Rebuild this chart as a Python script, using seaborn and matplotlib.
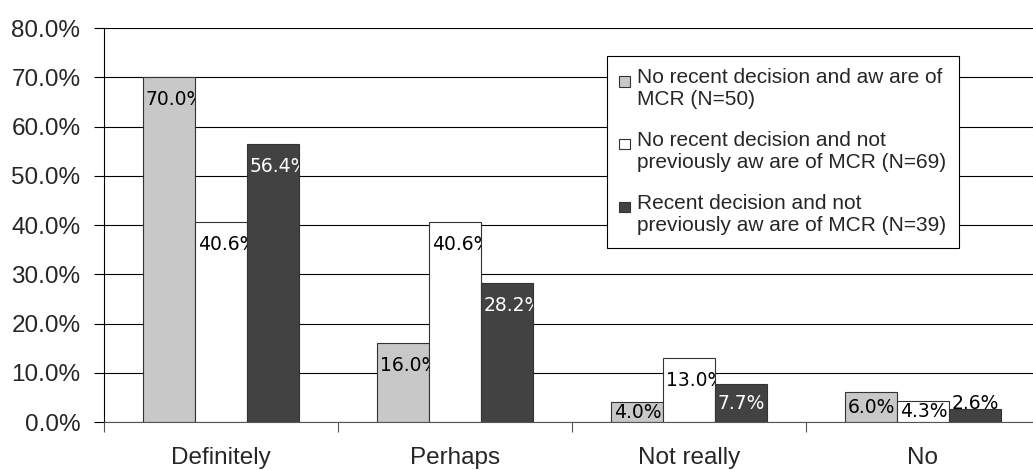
import numpy as np
import matplotlib
matplotlib.use('Agg')
import matplotlib.pyplot as plt
import pandas as pd
import seaborn as sns
from matplotlib.patches import Rectangle
from matplotlib.legend_handler import HandlerPatch

## datos
cats = ['Definitely', 'Perhaps', 'Not really', 'No']
grupos = ['No recent decision and aw are of\nMCR (N=50)',
          'No recent decision and not\npreviously aw are of MCR (N=69)',
          'Recent decision and not\npreviously aw are of MCR (N=39)']
g1 = [70.0, 16.0, 4.0, 6.0]
g2 = [40.6, 40.6, 13.0, 4.3]
g3 = [56.4, 28.2, 7.7, 2.6]
colores = ['#c8c8c8', '#ffffff', '#424242']
yticks = [0, 10, 20, 30, 40, 50, 60, 70, 80]

df = pd.DataFrame({
    'cat': cats * 3,
    'val': g1 + g2 + g3,
    'grp': [grupos[0]] * 4 + [grupos[1]] * 4 + [grupos[2]] * 4,
})

sns.set_style('white')
plt.rcParams['font.family'] = ['Liberation Sans', 'DejaVu Sans']

fig = plt.figure(figsize=(10.33, 4.7), dpi=100)
ax = fig.add_axes([0.1007, 0.1021, 0.906, 0.8383])

sns.barplot(data=df, x='cat', y='val', hue='grp', hue_order=grupos,
            palette=dict(zip(grupos, colores)), width=0.667, saturation=1,
            edgecolor='#333333', linewidth=0.8, errorbar=None, legend=False, ax=ax)

ax.set_xlim(-0.5, 3.5)
ax.set_ylim(0, 80)
ax.set_yticks(yticks)
ax.set_yticklabels([f'{v:.1f}%' for v in yticks], fontsize=17.5)
ax.yaxis.grid(True, color='black', linewidth=0.8)
ax.set_axisbelow(True)
ax.set_xlabel('')
ax.set_ylabel('')

ax.tick_params(axis='y', direction='out', length=7, width=0.8, color='black', pad=10, left=True)
ax.tick_params(axis='x', which='major', length=0, pad=18, labelsize=17.5)
ax.set_xticks([-0.5, 0.5, 1.5, 2.5], minor=True)
ax.tick_params(axis='x', which='minor', direction='out', length=7, width=0.8, color='#555555', bottom=True)

for s in ['top', 'right']:
    ax.spines[s].set_visible(False)
ax.spines['left'].set_color('black')
ax.spines['left'].set_linewidth(0.8)
ax.spines['bottom'].set_color('#555555')
ax.spines['bottom'].set_linewidth(0.8)

# etiquetas de las barras (recortadas al ancho de la barra, como en excel)
for i, cont in enumerate(ax.containers):
    for bar in cont:
        v = bar.get_height()
        x0 = bar.get_x()
        w = bar.get_width()
        col = 'white' if i == 2 else 'black'
        if v > 9.2:
            yc = v - 4.6
        elif v > 3:
            yc = max(v / 2, 1.6)
        else:
            yc = v + 1.1
            col = 'black'
        t = ax.text(x0 + 0.012, yc, f'{v:.1f}%', ha='left', va='center',
                    fontsize=13.5, family='DejaVu Sans', color=col, clip_on=True)
        clip = Rectangle((x0, -10), w, 100, transform=ax.transData)
        t.set_clip_path(clip)

# leyenda
def cuadrado(legend, orig_handle, xdescent, ydescent, width, height, fontsize):
    s = 0.5 * fontsize
    return Rectangle((-xdescent, -ydescent + height - s * 1.2), s, s)

handles = [Rectangle((0, 0), 1, 1, facecolor=c, edgecolor='#333333', linewidth=0.8) for c in colores]
leg = fig.legend(handles, grupos, loc='upper left', bbox_to_anchor=(0.5876, 0.881),
                 bbox_transform=fig.transFigure, borderaxespad=0, fontsize=15,
                 handler_map={Rectangle: HandlerPatch(patch_func=cuadrado)},
                 handlelength=0.5, handleheight=1.95, handletextpad=0.35,
                 labelspacing=1.05, borderpad=0.6, fancybox=False, framealpha=1,
                 edgecolor='black')
leg.get_frame().set_linewidth(0.8)
for txt in leg.get_texts():
    txt.set_linespacing(1.2)

plt.savefig('out.png', dpi=100)
